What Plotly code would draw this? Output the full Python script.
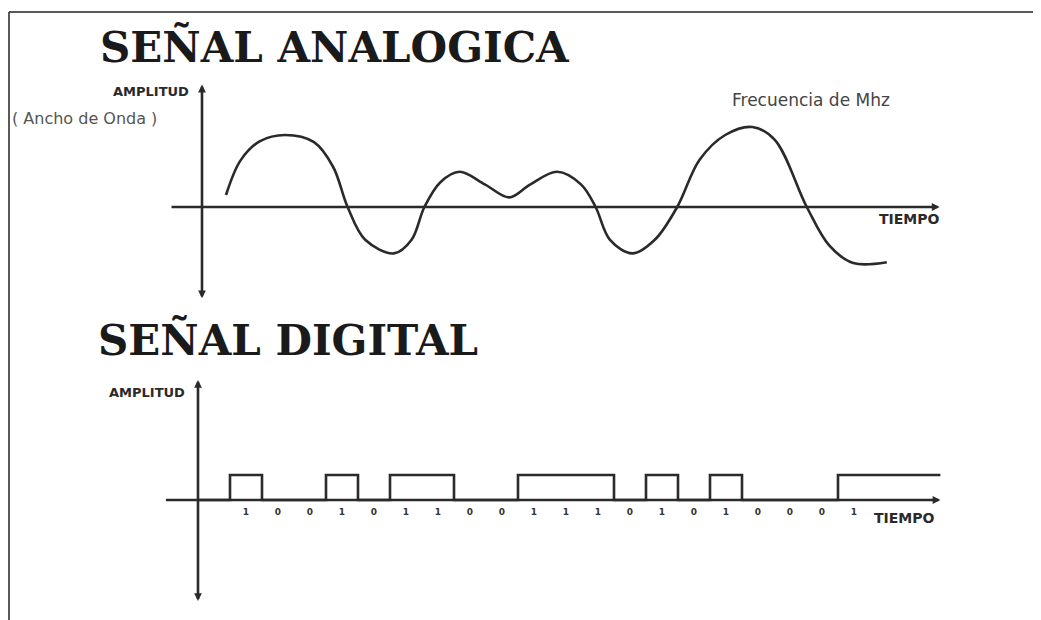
import plotly.graph_objects as go

# ---------------- data ----------------
# Analog signal: time (units) and amplitude (units)
analog_t = [0.75, 1.2, 1.8, 2.6, 3.5, 4.1, 4.55, 5.1, 6.0, 6.55, 6.95, 7.45,
            8.05, 8.85, 9.6, 10.25, 11.1, 11.85, 12.3, 12.75, 13.45, 14.15,
            14.85, 15.55, 16.35, 17.2, 17.9, 18.9, 19.6, 20.35, 21.4]
analog_a = [0.15, 0.58, 0.82, 0.9, 0.81, 0.5, 0.0, -0.41, -0.58, -0.41, 0.0, 0.31,
            0.44, 0.28, 0.12, 0.28, 0.44, 0.28, 0.0, -0.41, -0.58, -0.41,
            0.0, 0.59, 0.9, 1.0, 0.84, 0.0, -0.48, -0.7, -0.69]

# Digital signal bits
bits = [1, 0, 0, 1, 0, 1, 1, 0, 0, 1, 1, 1, 0, 1, 0, 1, 0, 0, 0, 1]
bit_labels = [str(b) for b in bits]
digital_end = 23.2

title_analog = "SEÑAL ANALOGICA"
title_digital = "SEÑAL DIGITAL"

# ---------------- figure ----------------
OFF = 8                     # page body margin
W, H = 1041 - OFF, 620 - OFF
INK = "#2a2a2a"

def px(x):
    return (x - OFF) / W

def py(y):
    return 1 - (y - OFF) / H

fig = go.Figure()

fig.add_trace(go.Scatter(
    x=analog_t, y=analog_a, mode="lines",
    line=dict(color=INK, width=2.6, shape="spline", smoothing=1.0),
    xaxis="x", yaxis="y", hoverinfo="skip", showlegend=False))

dx = [0] + [1 + i for i in range(len(bits))] + [digital_end]
dy = [0] + bits + [bits[-1]]
fig.add_trace(go.Scatter(
    x=dx, y=dy, mode="lines",
    line=dict(color=INK, width=2.6, shape="hv"),
    xaxis="x2", yaxis="y2", hoverinfo="skip", showlegend=False))

fig.add_trace(go.Scatter(
    x=[1.5 + i for i in range(len(bits))], y=[-0.5] * len(bits),
    mode="text", text=[f"<b>{b}</b>" for b in bit_labels],
    textfont=dict(family="DejaVu Sans", size=9, color="#333"),
    xaxis="x2", yaxis="y2", hoverinfo="skip", showlegend=False))

# analog origin at page pixel (202, 207): 32 px per time unit, 80 px per amplitude unit
# digital origin at page pixel (198, 500): 32 px per bit, 25 px per level
ax0, ay0 = 202 - OFF, 207 - OFF
dx0, dy0 = 198 - OFF, 500 - OFF
hidden = dict(visible=False, showgrid=False, zeroline=False, fixedrange=True)
fig.update_layout(
    width=W, height=H,
    margin=dict(l=0, r=0, t=0, b=0),
    paper_bgcolor="white", plot_bgcolor="rgba(0,0,0,0)",
    xaxis=dict(domain=[0, 1], range=[-ax0 / 32, (W - ax0) / 32], anchor="y", **hidden),
    yaxis=dict(domain=[0, 1], range=[-(H - ay0) / 80, ay0 / 80], anchor="x", **hidden),
    xaxis2=dict(domain=[0, 1], range=[-dx0 / 32, (W - dx0) / 32], anchor="y2", **hidden),
    yaxis2=dict(domain=[0, 1], range=[-(H - dy0) / 25, dy0 / 25], anchor="x2", **hidden),
)

ann = []
def arrow(xref, yref, x, y, ax, ay, both=False):
    ann.append(dict(xref=xref, yref=yref, axref=xref, ayref=yref,
                    x=x, y=y, ax=ax, ay=ay, text="", showarrow=True,
                    arrowhead=2, arrowsize=0.6, arrowwidth=2.6, arrowcolor=INK,
                    arrowside="end+start" if both else "end"))

# analog axes
arrow("x", "y", 23.05, 0, -1.0, 0)
arrow("x", "y", 0, 1.53, 0, -1.16, both=True)
# digital axes
arrow("x2", "y2", 23.2, 0, -1.05, 0)
arrow("x2", "y2", 0, 4.8, 0, -4.1, both=True)

def text(x, y, s, size, family="DejaVu Sans", bold=False, color=INK,
         xanchor="left", yanchor="middle"):
    ann.append(dict(xref="paper", yref="paper", x=px(x), y=py(y),
                    text=f"<b>{s}</b>" if bold else s, showarrow=False,
                    xanchor=xanchor, yanchor=yanchor,
                    font=dict(family=family, size=size, color=color)))

text(98, 47, title_analog, 42, family="DejaVu Serif", bold=True, color="#1a1a1a")
text(96, 340, title_digital, 42, family="DejaVu Serif", bold=True, color="#1a1a1a")
text(191, 92, "AMPLITUD", 13, bold=True, xanchor="right")
text(187, 392, "AMPLITUD", 13, bold=True, xanchor="right")
text(10, 118, "( Ancho de Onda )", 16, color="#555")
text(730, 100, "Frecuencia de Mhz", 17, color="#444")
text(942, 219, "TIEMPO", 14, bold=True, xanchor="right")
text(937, 518, "TIEMPO", 14, bold=True, xanchor="right")

fig.update_layout(annotations=ann)

# picture frame
fig.update_layout(shapes=[
    dict(type="line", xref="paper", yref="paper", x0=px(9), x1=1, y0=py(12), y1=py(12),
         line=dict(color="#222", width=1.5)),
    dict(type="line", xref="paper", yref="paper", x0=px(9), x1=px(9), y0=py(12), y1=0,
         line=dict(color="#222", width=1.5)),
])

fig.write_html("out.html")
